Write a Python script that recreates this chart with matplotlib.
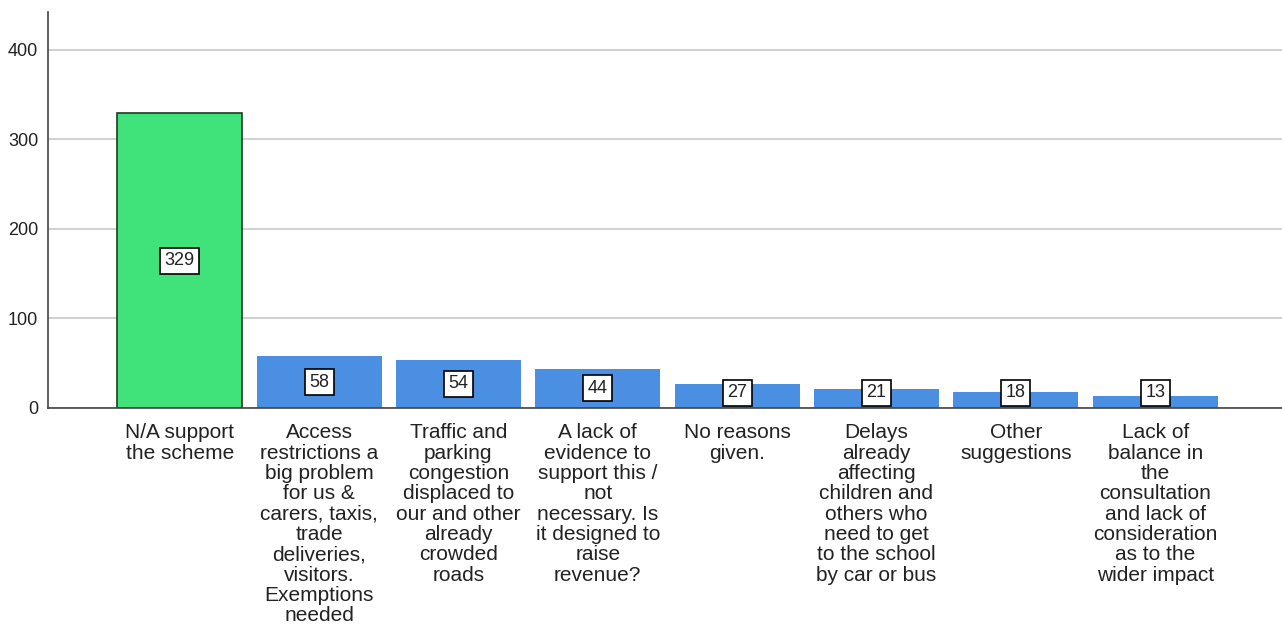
import matplotlib.pyplot as plt
import numpy as np

plt.rcParams['font.family'] = ['Liberation Sans', 'DejaVu Sans']

# Reasons given (counts)
labels = [
    "N/A support\nthe scheme",
    "Access\nrestrictions a\nbig problem\nfor us &\ncarers, taxis,\ntrade\ndeliveries,\nvisitors.\nExemptions\nneeded",
    "Traffic and\nparking\ncongestion\ndisplaced to\nour and other\nalready\ncrowded\nroads",
    "A lack of\nevidence to\nsupport this /\nnot\nnecessary. Is\nit designed to\nraise\nrevenue?",
    "No reasons\ngiven.",
    "Delays\nalready\naffecting\nchildren and\nothers who\nneed to get\nto the school\nby car or bus",
    "Other\nsuggestions",
    "Lack of\nbalance in\nthe\nconsultation\nand lack of\nconsideration\nas to the\nwider impact",
]
counts = [329, 58, 54, 44, 27, 21, 18, 13]
yticks = [0, 100, 200, 300, 400]

green = '#40E27A'
blue = '#4A8FE2'

fig = plt.figure(figsize=(12.82, 6.31), dpi=100)
ax = fig.add_axes([48/1282, 1-408/631, 1-48/1282, (408-12)/631])

x = np.arange(len(counts))
colors = [green] + [blue]*(len(counts)-1)
edges = ['#1f3a25'] + ['none']*(len(counts)-1)
bars = ax.bar(x, counts, width=0.897, color=colors, edgecolor=edges, linewidth=1.2, zorder=3)

ax.set_xlim(-0.945, 7.91)
ax.set_ylim(0, 442)
ax.set_yticks(yticks)
ax.yaxis.grid(True, color='#c8c8c8', linewidth=1.2, zorder=0)
ax.tick_params(axis='y', length=0, labelsize=13, pad=7, labelcolor='#222222')
ax.tick_params(axis='x', length=0, pad=11, labelcolor='#222222')
ax.set_xticks(x)
ax.set_xticklabels(labels, fontsize=15, linespacing=1.09, va='top')

for s in ['top', 'right']:
    ax.spines[s].set_visible(False)
ax.spines['left'].set_color('#444444')
ax.spines['bottom'].set_color('#444444')
ax.spines['left'].set_linewidth(1.2)
ax.spines['bottom'].set_linewidth(1.2)
ax.spines['bottom'].set_zorder(4)

for xi, v in zip(x, counts):
    ypos = max(v / 2, 17)
    ax.text(xi, ypos, str(v), ha='center', va='center', fontsize=13, zorder=5, color='#222222',
            bbox=dict(boxstyle='square,pad=0.25', fc='white', ec='black', lw=1.2))

fig.savefig('out.png', dpi=100)
